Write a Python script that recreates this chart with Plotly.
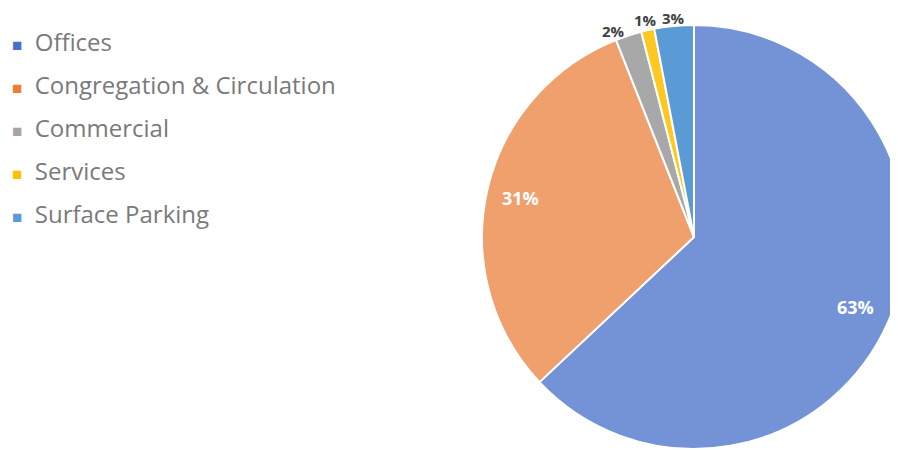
import math
import plotly.graph_objects as go

categories = ["Offices", "Congregation & Circulation", "Commercial", "Services", "Surface Parking"]
values = [63, 31, 2, 1, 3]
colors = ["#7393d6", "#f0a06c", "#a8a8a8", "#ffc820", "#5b9bd5"]
legend_colors = ["#4472c4", "#ed7d31", "#a5a5a5", "#ffc000", "#5b9bd5"]
label_radius = [0.83, 0.84, 1.02, 1.05, 1.04]
label_anchor = ["center", "center", "right", "center", "center"]
label_colors = ["white", "white", "#404040", "#404040", "#404040"]
label_sizes = [18, 18, 15, 15, 15]

W, H = 898, 450
dom_x = [0.5278, 1.0]
dom_y = [0.02, 0.962]

fig = go.Figure()
fig.add_trace(go.Pie(
    labels=categories,
    values=values,
    sort=False,
    direction="clockwise",
    rotation=0,
    marker=dict(colors=colors, line=dict(color="white", width=2)),
    textinfo="none",
    automargin=False,
    domain=dict(x=dom_x, y=dom_y),
    showlegend=False,
    hoverinfo="label+percent",
))

# percentage labels placed from the data (mid-angle of each slice)
cx = (dom_x[0] + dom_x[1]) / 2 * W
cy = (dom_y[0] + dom_y[1]) / 2 * H
R = min((dom_x[1] - dom_x[0]) * W, (dom_y[1] - dom_y[0]) * H) / 2
total = sum(values)
cum = 0
for v, rr, anc, col, fs in zip(values, label_radius, label_anchor, label_colors, label_sizes):
    mid = (cum + v / 2) / total * 2 * math.pi
    cum += v
    px = cx + math.sin(mid) * R * rr
    py = cy + math.cos(mid) * R * rr
    fig.add_annotation(
        x=px / W, y=py / H, xref="paper", yref="paper",
        text=f"<b>{round(v / total * 100)}%</b>",
        showarrow=False, xanchor=anc, yanchor="middle",
        font=dict(family="Open Sans", size=fs, color=col),
    )

for i, (name, c) in enumerate(zip(categories, legend_colors)):
    fig.add_annotation(
        x=2 / W, y=1 - (33 + i * 43.2) / H,
        xref="paper", yref="paper",
        text=f"<span style='color:{c};font-size:17px'>■</span>  {name}",
        showarrow=False,
        xanchor="left", yanchor="middle",
        font=dict(family="Open Sans", size=24, color="#7a7a7a"),
    )

fig.update_layout(
    width=W, height=H,
    margin=dict(l=0, r=0, t=0, b=0, autoexpand=False),
    paper_bgcolor="white",
    plot_bgcolor="white",
)
fig.write_html("out.html")
